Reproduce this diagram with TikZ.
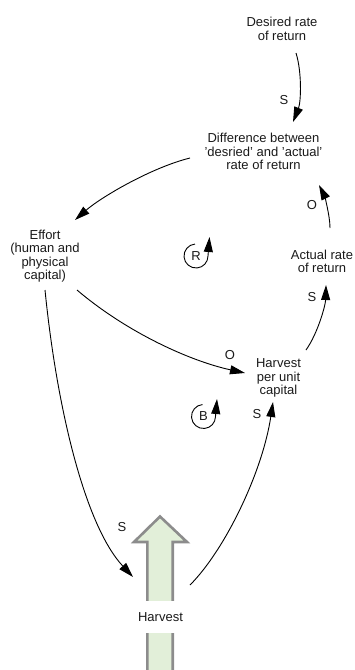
\documentclass[tikz,border=0pt]{standalone}
\usepackage{fontspec}
\setmainfont{Liberation Sans}
\usetikzlibrary{arrows.meta}
\definecolor{arrowfill}{HTML}{E2EFD9}
\definecolor{arrowgray}{HTML}{8C8C8C}
\definecolor{txt}{HTML}{1A1A1A}
\begin{document}
\begin{tikzpicture}[x=1pt,y=-1pt,
  every node/.style={font=\fontsize{13}{13.4}\selectfont, align=center, inner sep=0pt, text=txt},
  link/.style={line width=0.9pt, -{Triangle[length=15pt,width=9pt]}},
  loopmark/.style={line width=0.9pt, -{Triangle[length=15pt,width=9pt]}},
  bigarrow/.style={line width=2.6pt, draw=arrowgray, fill=arrowfill, line join=miter},
  harvestbox/.style={fill=white, minimum width=54pt, minimum height=32pt}
]
\useasboundingbox (0,0) rectangle (354,670);
\clip (0,0) rectangle (354,670);

% big inflow arrow
\draw[bigarrow] (160,516.5) -- (187,542) -- (172.7,542) -- (172.7,680) -- (147.3,680) -- (147.3,542) -- (134,542) -- cycle;

% variables
\node (desired) at (282,29) {Desired rate\\of return};
\node (diff) at (263.5,151.5) {Difference between\\'desried' and 'actual'\\rate of return};
\node (effort) at (45,256) {Effort\\(human and\\physical\\capital)};
\node (hpuc) at (278.5,378) {Harvest\\per unit\\capital};
\node (actual) at (322,261.5) {Actual rate\\of return};
\node[harvestbox] (harvest) at (160.5,617) {Harvest};

% links
\draw[link] ([shift={(14,24)}]desired.center) .. controls (302,72) and (301,102) .. ([shift={(29.5,-29.5)}]diff.center);
\draw[link] ([shift={(-73.5,6.5)}]diff.center) .. controls (150,168) and (100,198) .. ([shift={(30,-36)}]effort.center);
\draw[link] ([shift={(32,34)}]effort.center) .. controls (127,332.5) and (190,361) .. ([shift={(-33.5,-5)}]hpuc.center);
\draw[link] ([shift={(0,34)}]effort.center) .. controls (57,410) and (85.4,526) .. ([shift={(-27.5,-40)}]harvest.center);
\draw[link] ([shift={(29.5,-32)}]harvest.center) .. controls (225,550) and (262.5,472) .. ([shift={(-5.5,24)}]hpuc.center);
\draw[link] ([shift={(27.5,-28)}]hpuc.center) .. controls (318,333) and (325.5,305) .. ([shift={(4,23.5)}]actual.center);
\draw[link] ([shift={(8,-33.5)}]actual.center) .. controls (330,215) and (324,195) .. ([shift={(55.5,33.5)}]diff.center);

% polarity labels
\node (p1) at (284,100) {S};
\node (p2) at (230,355) {O};
\node (p3) at (122,527) {S};
\node (p4) at (257,414) {S};
\node (p5) at (312,297) {S};
\node (p6) at (312,205) {O};

% loop markers
\begin{scope}[shift={(196,256)},yscale=-1]
  \draw[loopmark] (95:12) arc (95:360:12) -- (13.5,19);
\end{scope}
\node (rloop) at (196,256) {R};
\begin{scope}[shift={(203.5,416.5)},yscale=-1]
  \draw[loopmark] (95:12) arc (95:360:12) -- (13.5,17.5);
\end{scope}
\node (bloop) at (203.5,416.5) {B};
\end{tikzpicture}
\end{document}
